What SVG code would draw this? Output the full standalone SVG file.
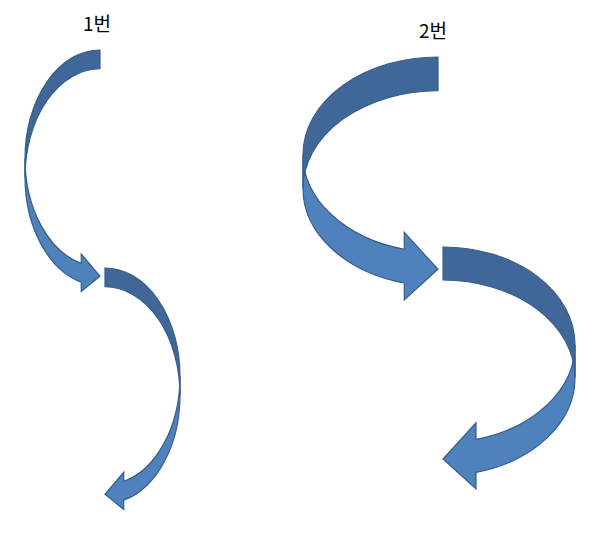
<svg xmlns="http://www.w3.org/2000/svg" width="600" height="539" viewBox="0 0 600 539">
  <style>
    .front { fill: #4F81BD; stroke: #385D8A; stroke-width: 1.2; stroke-linejoin: miter; }
    .back { fill: #3F6797; stroke: #385D8A; stroke-width: 1.2; stroke-linejoin: miter; }
    .label { font-family: "Noto Sans CJK KR", "Noto Sans", sans-serif; font-size: 19px; fill: #000000; text-anchor: middle; }
  </style>
  <rect x="0" y="0" width="600" height="539" fill="#FFFFFF"/>

  <g id="label-1">
    <text class="label" x="97" y="31">1번</text>
  </g>
  <g id="label-2">
    <text class="label" x="433" y="38">2번</text>
  </g>

  <g id="connectors">
    <g id="arrow-1">
      <path class="front" d="M25,158.44 A75,108.44 0 0 0 81.25,263.43 L81.25,254.05 L100,276.25 L81.25,291.55 L81.25,282.18 A75,108.44 0 0 1 25,177.19 Z"/>
      <path class="back" d="M100,50 A75,108.44 0 0 0 25,158.44 L25,177.19 A75,108.44 0 0 1 100,68.75 Z"/>
    </g>
    <g id="arrow-2">
      <path class="front" d="M180,376.44 A75,108.44 0 0 1 123.75,481.43 L123.75,472.05 L105,494.25 L123.75,509.55 L123.75,500.18 A75,108.44 0 0 0 180,395.19 Z"/>
      <path class="back" d="M105,268 A75,108.44 0 0 1 180,376.44 L180,395.19 A75,108.44 0 0 0 105,286.75 Z"/>
    </g>
    <g id="arrow-3">
      <path class="front" d="M303,154.69 A135,97.69 0 0 0 404.25,249.27 L404.25,232.39 L438,269.25 L404.25,299.9 L404.25,283.02 A135,97.69 0 0 1 303,188.44 Z"/>
      <path class="back" d="M438,57 A135,97.69 0 0 0 303,154.69 L303,188.44 A135,97.69 0 0 1 438,90.75 Z"/>
    </g>
    <g id="arrow-4">
      <path class="front" d="M575,344.75 A132,97.75 0 0 1 476,439.4 L476,422.9 L443,459 L476,488.9 L476,472.4 A132,97.75 0 0 0 575,377.75 Z"/>
      <path class="back" d="M443,247 A132,97.75 0 0 1 575,344.75 L575,377.75 A132,97.75 0 0 0 443,280 Z"/>
    </g>
  </g>
</svg>
